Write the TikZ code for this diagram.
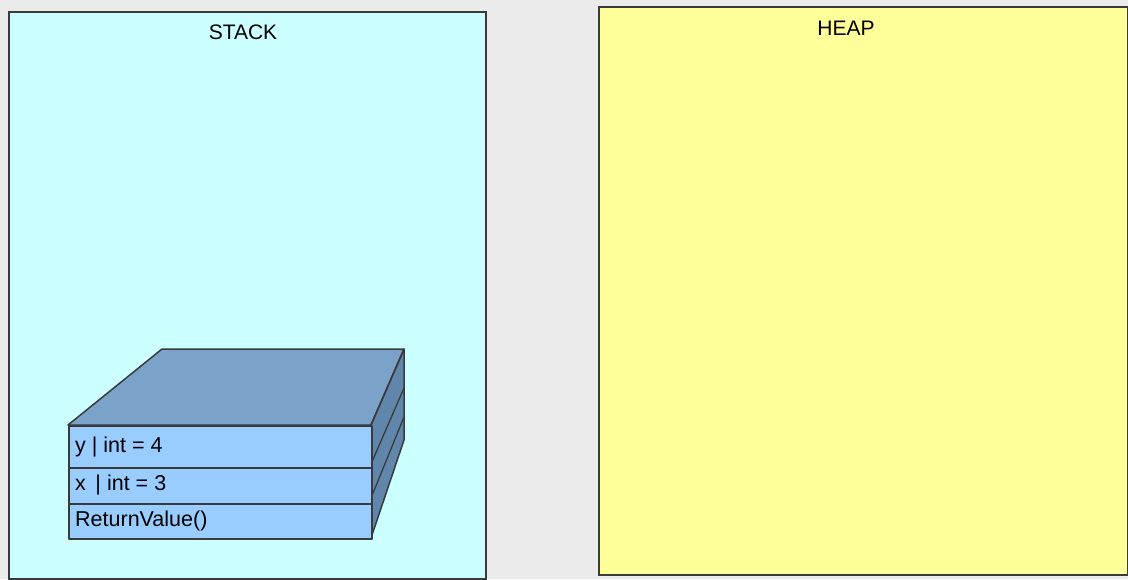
\documentclass[tikz,border=0pt]{standalone}
\usepackage{fontspec}
\setmainfont{Liberation Sans}
\definecolor{bgout}{HTML}{EBEBEB}
\definecolor{stackbg}{HTML}{CCFFFF}
\definecolor{heapbg}{HTML}{FFFF99}
\definecolor{frontc}{HTML}{99CCFF}
\definecolor{topc}{HTML}{7BA3CA}
\definecolor{sidec}{HTML}{6086AC}
\definecolor{edge}{HTML}{3A3A3A}
\begin{document}
\begin{tikzpicture}[x=1pt,y=-1pt,
  panel/.style={draw=edge,line width=2.2pt},
  boxline/.style={draw=edge,line width=1.5pt,line join=round},
  rowtext/.style={anchor=west,font=\fontsize{21.5}{25}\selectfont,text=black,inner sep=0pt},
  title/.style={font=\fontsize{21}{25}\selectfont,text=black,inner sep=0pt}]
\useasboundingbox (0,0) rectangle (1128,579);
\fill[bgout] (0,0) rectangle (1128,579);
% panels
\node[panel,fill=stackbg,minimum width=477pt,minimum height=567pt,anchor=north west,inner sep=0pt] (stack) at (8,11) {};
\node[panel,fill=heapbg,minimum width=529pt,minimum height=568pt,anchor=north west,inner sep=0pt] (heap) at (598,6) {};
\node[title] (stacklbl) at (243,32) {STACK};
\node[title] (heaplbl) at (846,28) {HEAP};
% 3D stack frame
\coordinate (ftl) at (68,425);
\coordinate (ftr) at (371,425);
\coordinate (fbr) at (371,538);
\coordinate (fbl) at (68,538);
\coordinate (btl) at (162,349);
\coordinate (btr) at (404,349);
\coordinate (bbr) at (404,440);
\fill[topc] (ftl) -- (btl) -- (btr) -- (ftr) -- cycle;
\fill[sidec] (ftr) -- (btr) -- (bbr) -- (fbr) -- cycle;
\draw[boxline] (ftl) -- (btl) -- (btr) -- (ftr) -- cycle;
\draw[boxline] (ftr) -- (btr) -- (bbr) -- (fbr);
\draw[boxline,line width=1.3pt] (371,464) -- (404,388);
\draw[boxline,line width=1.3pt] (371,498) -- (404,417);
\node[boxline,fill=frontc,minimum width=303pt,minimum height=42pt,anchor=north west,inner sep=0pt] (rowy) at (68,425) {};
\node[boxline,fill=frontc,minimum width=303pt,minimum height=36pt,anchor=north west,inner sep=0pt] (rowx) at (68,467) {};
\node[boxline,fill=frontc,minimum width=303pt,minimum height=35pt,anchor=north west,inner sep=0pt] (rowr) at (68,503) {};
\node[rowtext] (ty) at (75,447) {y | int = 4};
\node[rowtext] (tx) at (75,485) {x \,| int = 3};
\node[rowtext] (tr) at (75,521) {ReturnValue()};
\end{tikzpicture}
\end{document}
